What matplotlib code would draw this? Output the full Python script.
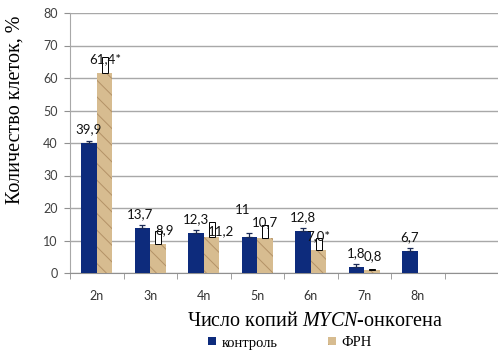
import matplotlib
matplotlib.use("Agg")
import matplotlib.pyplot as plt
import numpy as np

categories = ["2n", "3n", "4n", "5n", "6n", "7n", "8n"]
control = [39.9, 13.7, 12.3, 11.0, 12.8, 1.8, 6.7]
control_err = [0.8, 1.1, 0.9, 1.3, 1.0, 1.0, 1.0]
frn = [61.4, 8.9, 11.2, 10.7, 7.0, 0.8]
frn_err = [5.0, 4.0, 4.5, 4.0, 3.7, 0.3]
control_labels = ["39,9", "13,7", "12,3", "11", "12,8", "1,8", "6,7"]
frn_labels = ["61,4*", "8,9", "11,2", "10,7", "7,0*", "0,8"]

# nudges of the data labels (px, value units)
control_nudge = [(0, 0), (-2, 0), (0, 0), (-7, 4), (0, 0), (0, 0), (0, 0)]
frn_nudge = [(1, 0), (7, 0), (9, -2.6), (0, 0.4), (0, 0), (1, 0)]

BLUE = "#0d2b7c"
TAN = "#d7bc90"
SLOT = 54.0  # px per category

plt.rcParams["hatch.linewidth"] = 0.7
plt.rcParams["mathtext.fontset"] = "custom"
plt.rcParams["mathtext.rm"] = "Liberation Serif"
plt.rcParams["mathtext.it"] = "Liberation Serif:italic"

fig = plt.figure(figsize=(4.98, 3.6), dpi=100)
ax = fig.add_axes([70 / 498, 87 / 360, 428 / 498, 260 / 360])

x = np.arange(len(categories))
w = 0.29
off = 0.148

ax.bar(x - off, control, width=w, color=BLUE, zorder=3, label="контроль")
ax.errorbar(x - off, control, yerr=[np.zeros(len(control)), control_err], fmt="none",
            ecolor="#1a2a55", elinewidth=0.9, capsize=2.5, capthick=0.9, zorder=4)

xf = x[:len(frn)] + off
ax.bar(xf, frn, width=w, color=TAN, edgecolor="#b39267", linewidth=0, hatch="\\\\",
       zorder=3, label="ФРН")
ax.bar(xf, frn_err, bottom=frn, width=0.11, color="white", edgecolor="black",
       linewidth=0.7, zorder=4)

px = 1 / SLOT
for i, (v, lab) in enumerate(zip(control, control_labels)):
    dx, dy = control_nudge[i]
    ax.text(x[i] - off + dx * px, v + 4.4 + dy, lab, ha="center", va="center",
            fontsize=9.5, family="Lato", color="#111111", zorder=5)
for i, (v, lab) in enumerate(zip(frn, frn_labels)):
    dx, dy = frn_nudge[i]
    ax.text(xf[i] + dx * px, v + 4.4 + dy, lab, ha="center", va="center",
            fontsize=9.5, family="Lato", color="#111111", zorder=5)

ax.set_xlim(-0.5, -0.5 + 428 / SLOT)
ax.set_ylim(0, 80)
ax.set_yticks(range(0, 81, 10))
ax.set_xticks(x)
ax.set_xticklabels(categories, family="Lato", fontsize=9, color="#333333")
ax.set_xticks(np.arange(-0.5, 7.6, 1), minor=True)
ax.tick_params(axis="x", which="major", length=0, pad=12)
ax.tick_params(axis="x", which="minor", length=4, color="#909090", direction="out")
ax.tick_params(axis="y", length=4, color="#909090", labelsize=9, labelcolor="#404040", pad=5)
for t in ax.get_yticklabels():
    t.set_family("Lato")

ax.grid(True, axis="y", color="#a8a8a8", linewidth=1.0, zorder=0)
ax.set_axisbelow(True)
for s in ["top", "right"]:
    ax.spines[s].set_visible(False)
ax.spines["left"].set_color("#a8a8a8")
ax.spines["bottom"].set_color("#909090")

fig.text(15 / 498, 1 - 110 / 360, "Количество клеток, %", rotation=90, ha="center", va="center",
         family="Liberation Serif", fontsize=14.5)
fig.text(315 / 498, 1 - 322 / 360, "Число копий $\\mathit{MYCN}$-онкогена", ha="center", va="center",
         family="Liberation Serif", fontsize=14.5)

leg = fig.legend(loc="center", bbox_to_anchor=(290 / 498, 1 - 343 / 360), ncol=2, frameon=False,
                 prop={"family": "Liberation Serif", "size": 10.5}, handlelength=0.5, handleheight=0.5,
                 handletextpad=0.4, columnspacing=3.5)

fig.savefig("out.png", dpi=100)
